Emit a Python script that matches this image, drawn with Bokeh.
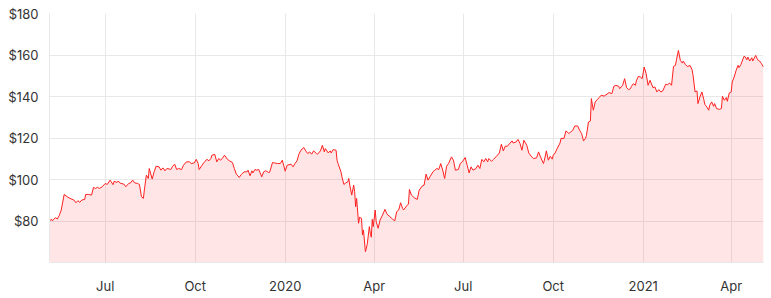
from datetime import datetime, timedelta
from bokeh.plotting import figure
from bokeh.models import Range1d, FixedTicker, NumeralTickFormatter
from bokeh.embed import file_html
from bokeh.resources import INLINE

# ---- data ----
start_date = datetime(2019, 5, 5)
day_offsets = [
    0, 2, 3, 6, 8, 10, 12, 15, 18, 21, 25, 27, 29, 31, 33, 36, 37, 40, 43, 45,
    47, 49, 51, 54, 57, 59, 62, 63, 65, 66, 69, 70, 73, 76, 78, 81, 83, 85, 87, 90,
    92, 94, 96, 97, 99, 101, 102, 105, 107, 109, 112, 114, 116, 118, 120, 123, 124, 126, 128, 130,
    132, 135, 137, 140, 143, 145, 148, 150, 152, 153, 156, 159, 161, 163, 165, 166, 169, 171, 173, 175,
    177, 179, 182, 184, 187, 189, 191, 194, 196, 199, 202, 203, 205, 207, 208, 210, 212, 214, 217, 219,
    221, 224, 225, 228, 230, 233, 236, 238, 241, 243, 247, 249, 251, 253, 255, 257, 260, 262, 264, 266,
    268, 270, 273, 274, 277, 279, 281, 282, 285, 287, 288, 290, 293, 294, 295, 298, 299, 301, 303, 305,
    306, 307, 309, 311, 312, 313, 314, 316, 317, 319, 320, 321, 323, 324, 325, 327, 328, 329, 330, 331,
    333, 334, 336, 338, 340, 343, 345, 346, 348, 351, 353, 355, 357, 359, 361, 362, 365, 367, 368, 370,
    373, 376, 378, 381, 383, 385, 387, 389, 392, 394, 396, 398, 400, 402, 404, 406, 408, 411, 413, 415,
    418, 420, 422, 425, 427, 429, 431, 433, 436, 438, 440, 442, 444, 446, 448, 449, 452, 454, 457, 460,
    462, 464, 466, 468, 471, 473, 474, 477, 479, 481, 483, 485, 488, 490, 493, 495, 498, 500, 502, 505,
    506, 508, 510, 512, 514, 515, 517, 519, 522, 523, 526, 528, 531, 533, 535, 537, 540, 542, 544, 546,
    548, 549, 551, 553, 554, 556, 558, 560, 562, 564, 567, 570, 572, 575, 577, 579, 582, 583, 586, 588,
    590, 592, 594, 595, 597, 599, 600, 602, 604, 606, 608, 610, 612, 614, 617, 619, 621, 623, 625, 627,
    630, 632, 634, 636, 638, 640, 641, 643, 645, 647, 648, 650, 652, 655, 657, 658, 660, 662, 663, 665,
    667, 669, 670, 672, 674, 675, 677, 679, 680, 682, 685, 687, 688, 690, 692, 693, 695, 697, 698, 700,
    702, 704, 705, 707, 710, 711, 713, 714, 716, 718, 719, 722, 724, 726, 728, 730,
]
prices = [
    80.1, 80.8, 80.1, 81.6, 81.0, 82.7, 85.3, 92.8, 91.7, 90.9, 90.1, 88.8, 89.8, 89.0, 90.1, 90.4, 92.8, 92.8, 92.5, 96.2,
    95.7, 96.2, 95.7, 96.5, 98.1, 97.6, 99.7, 98.9, 97.5, 99.1, 98.6, 99.2, 98.1, 97.8, 96.5, 98.1, 98.4, 99.7, 98.4, 98.1,
    97.6, 91.7, 90.9, 94.9, 102.1, 100.5, 105.3, 100.2, 103.7, 106.4, 106.1, 104.5, 105.6, 104.2, 105.3, 105.0, 104.8, 106.4, 107.4, 104.8,
    105.3, 104.8, 106.9, 108.5, 108.5, 107.7, 108.0, 109.7, 107.7, 104.8, 106.9, 108.8, 109.7, 109.0, 110.1, 111.7, 112.1, 108.5, 110.1, 109.3,
    110.4, 111.7, 109.7, 109.0, 108.2, 105.3, 102.6, 101.0, 102.4, 103.7, 103.7, 104.5, 101.8, 104.2, 103.2, 104.8, 104.5, 104.8, 101.3, 103.7,
    104.2, 103.4, 103.4, 108.2, 108.0, 107.7, 107.7, 109.3, 104.0, 106.9, 107.4, 106.1, 107.7, 109.0, 112.2, 114.1, 115.4, 113.8, 112.5, 113.3,
    112.2, 113.8, 112.5, 112.2, 113.8, 116.5, 113.3, 114.9, 112.8, 113.8, 112.8, 114.4, 114.1, 109.3, 107.7, 103.7, 101.3, 97.6, 98.4, 98.9,
    100.5, 97.3, 92.5, 97.3, 94.1, 86.9, 90.9, 78.9, 81.8, 81.3, 73.3, 75.7, 65.2, 66.9, 69.3, 77.3, 74.1, 72.2, 80.8, 77.3,
    85.3, 79.7, 76.5, 80.5, 82.4, 85.6, 83.4, 82.9, 82.1, 80.8, 80.1, 84.5, 85.3, 88.8, 86.1, 85.3, 87.2, 88.2, 95.2, 92.5,
    91.2, 90.4, 94.9, 96.8, 97.3, 102.6, 99.7, 101.3, 103.7, 104.5, 105.3, 104.8, 107.7, 104.5, 100.5, 106.4, 107.7, 110.9, 109.3, 104.5,
    104.8, 107.7, 108.5, 110.6, 106.9, 103.2, 106.1, 104.5, 105.3, 106.9, 105.3, 109.7, 108.5, 110.1, 108.5, 110.1, 108.8, 109.7, 111.2, 112.8,
    117.0, 113.8, 116.1, 116.0, 117.6, 118.6, 117.6, 118.1, 119.3, 117.4, 114.1, 118.9, 116.5, 112.8, 110.9, 110.1, 110.4, 113.3, 110.9, 107.7,
    109.3, 113.8, 109.3, 111.2, 109.8, 111.7, 112.8, 114.9, 117.6, 119.8, 119.8, 123.4, 122.2, 122.9, 123.7, 125.8, 125.8, 123.7, 122.2, 118.6,
    119.8, 121.3, 127.7, 128.2, 139.0, 133.4, 137.4, 138.5, 139.5, 140.6, 140.2, 141.1, 141.9, 141.4, 144.9, 145.4, 144.9, 143.8, 145.4, 148.6,
    144.3, 143.3, 143.8, 144.9, 146.2, 145.4, 147.5, 149.7, 149.4, 148.6, 154.2, 151.0, 145.4, 147.8, 144.3, 144.6, 142.2, 143.3, 142.2, 142.7,
    145.9, 145.7, 146.5, 145.4, 154.5, 155.0, 157.7, 162.2, 157.4, 156.1, 157.1, 155.5, 154.5, 154.9, 152.9, 150.2, 142.2, 142.7, 136.6, 139.8,
    142.2, 138.5, 136.2, 135.0, 133.4, 135.8, 137.4, 135.3, 136.6, 134.2, 133.8, 134.2, 140.1, 138.2, 139.5, 137.7, 141.7, 142.2, 147.0, 149.4,
    152.6, 155.0, 153.9, 155.5, 159.3, 159.3, 157.7, 159.0, 157.1, 158.7, 157.1, 159.8, 157.7, 157.1, 155.8, 154.2,
]
tick_dates = [datetime(2019, 7, 1), datetime(2019, 10, 1), datetime(2020, 1, 1), datetime(2020, 4, 1),
              datetime(2020, 7, 1), datetime(2020, 10, 1), datetime(2021, 1, 1), datetime(2021, 4, 1)]
tick_labels = ["Jul", "Oct", "2020", "Apr", "Jul", "Oct", "2021", "Apr"]
y_ticks = [80, 100, 120, 140, 160, 180]

dates = [start_date + timedelta(days=d) for d in day_offsets]
epoch = datetime(1970, 1, 1)
tick_ms = [int((t - epoch).total_seconds() * 1000) for t in tick_dates]

FONT = "Inter"
TEXT = "#333333"
GRID = "#e8e8e8"

p = figure(width=771, height=298, x_axis_type="datetime", output_backend="svg",
           toolbar_location=None,
           x_range=Range1d(dates[0], dates[-1]), y_range=Range1d(60, 180),
           min_border_left=49, min_border_right=8, min_border_top=13, min_border_bottom=36)
p.outline_line_color = None
p.background_fill_color = "white"
p.border_fill_color = "white"

p.varea(x=dates, y1=60, y2=prices, fill_color="#ff0000", fill_alpha=0.1)
p.line(x=dates, y=prices, line_color="#ff2020", line_width=1)

p.xaxis.ticker = FixedTicker(ticks=tick_ms)
p.xaxis.major_label_overrides = {ms: lab for ms, lab in zip(tick_ms, tick_labels)}
p.yaxis.ticker = FixedTicker(ticks=y_ticks)
p.yaxis.formatter = NumeralTickFormatter(format="$0")

for ax in (p.xaxis[0], p.yaxis[0]):
    ax.major_tick_line_color = None
    ax.minor_tick_line_color = None
    ax.axis_line_color = GRID
    ax.major_label_text_font = FONT
    ax.major_label_text_font_size = "13px"
    ax.major_label_text_color = TEXT
p.xaxis.major_label_standoff = 9
p.yaxis.major_label_standoff = 5

p.xgrid.grid_line_color = GRID
p.ygrid.grid_line_color = GRID

open("out.html", "w").write(file_html(p, INLINE))
